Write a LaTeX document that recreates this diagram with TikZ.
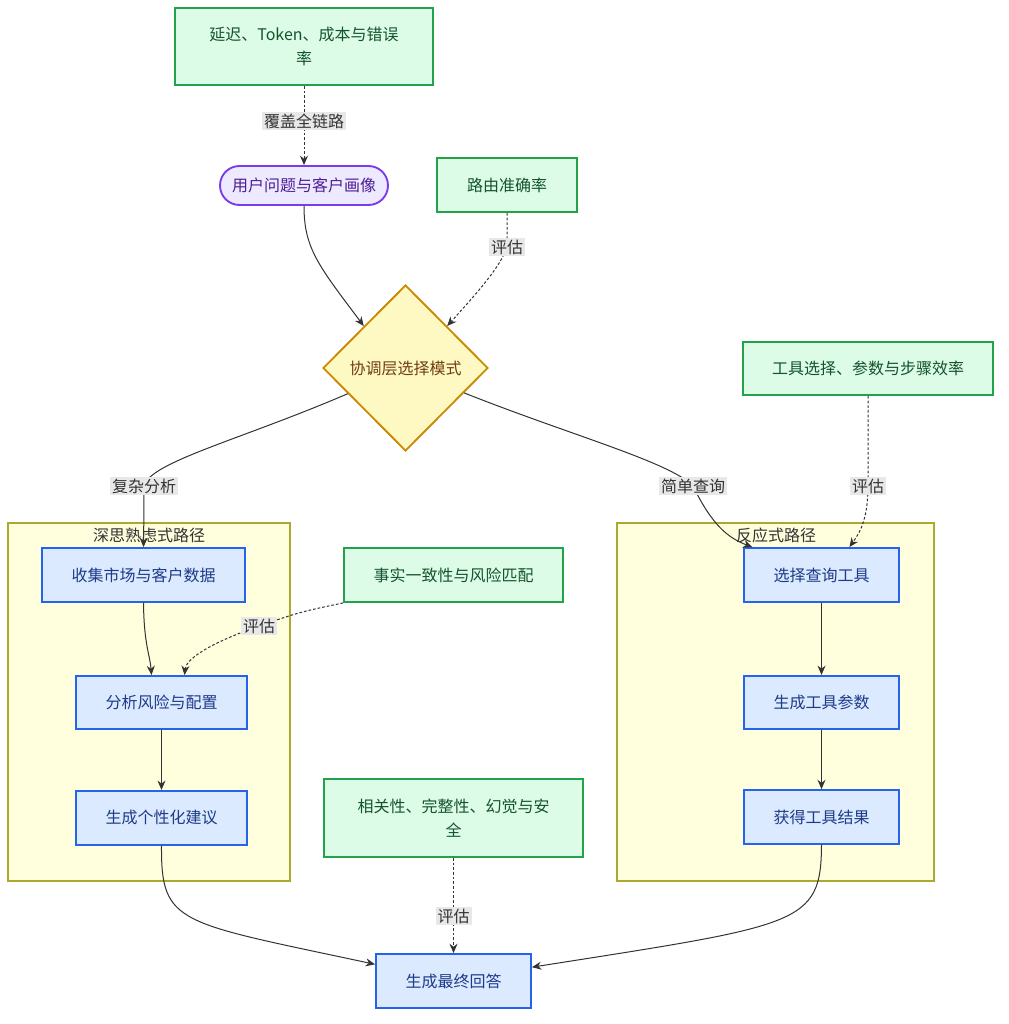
\documentclass[tikz,border=0pt]{standalone}
\usepackage{fontspec}
\setmainfont{Noto Sans CJK SC}
\usetikzlibrary{positioning,shapes.geometric,arrows.meta}
\definecolor{mGreenFill}{HTML}{DCFCE7}
\definecolor{mGreenLine}{HTML}{22A34A}
\definecolor{mGreenText}{HTML}{14532D}
\definecolor{mPurpleFill}{HTML}{EDE9FE}
\definecolor{mPurpleLine}{HTML}{7C3AED}
\definecolor{mPurpleText}{HTML}{4C1D95}
\definecolor{mYellowFill}{HTML}{FEF9C3}
\definecolor{mYellowLine}{HTML}{CA8A04}
\definecolor{mYellowText}{HTML}{713F12}
\definecolor{mBlueFill}{HTML}{DBEAFE}
\definecolor{mBlueLine}{HTML}{2563EB}
\definecolor{mBlueText}{HTML}{1E3A8A}
\definecolor{mClusterFill}{HTML}{FFFFDE}
\definecolor{mClusterLine}{HTML}{AAAA33}
\definecolor{mEdge}{HTML}{333333}
\definecolor{mLabel}{HTML}{E8E8E8}

\begin{document}
\begin{tikzpicture}[
  x=0.75pt, y=-0.75pt,
  font=\fontsize{12}{18}\selectfont,
  box/.style={draw, rectangle, align=center, inner sep=0pt, line width=1.4pt},
  metric/.style={box, fill=mGreenFill, draw=mGreenLine, text=mGreenText},
  stepbox/.style={box, fill=mBlueFill, draw=mBlueLine, text=mBlueText,
                  minimum width=116.25pt, minimum height=40.5pt},
  dec/.style={draw=mYellowLine, fill=mYellowFill, text=mYellowText, diamond,
              inner sep=0pt, line width=1.4pt, minimum width=123.75pt, minimum height=124.5pt},
  cluster/.style={draw=mClusterLine, fill=mClusterFill, line width=0.8pt, inner sep=0pt},
  flow/.style={draw=mEdge, line width=0.75pt, -{Stealth[length=7pt,width=6pt]}},
  evalflow/.style={flow, dash pattern=on 2pt off 1.5pt},
  elabel/.style={fill=mLabel, text=mEdge, inner sep=1.5pt}
]
\path[use as bounding box, fill=white] (0,0) rectangle (1009,1024);

\node[cluster, minimum width=211.5pt, minimum height=268.5pt] (deep) at (149,702) {};
\node[cluster, minimum width=237.75pt, minimum height=268.5pt] (react) at (775.5,702) {};
\node[text=mEdge] (deepTitle) at (149,535) {深思熟虑式路径};
\node[text=mEdge] (reactTitle) at (776,535) {反应式路径};

\node[metric, minimum width=193.5pt, minimum height=57.75pt] (latency) at (304,46.5) {延迟、Token、成本与错误\\率};
\node[box, rounded corners=14.6pt, fill=mPurpleFill, draw=mPurpleLine, text=mPurpleText,
      minimum width=126pt, minimum height=29.25pt] (user) at (304,185.5) {用户问题与客户画像};
\node[metric, minimum width=105pt, minimum height=40.5pt] (route) at (507,185) {路由准确率};
\node[dec] (dia) at (405.5,368) {协调层选择模式};
\node[metric, minimum width=187.5pt, minimum height=39.75pt] (toolEff) at (868,368.5) {工具选择、参数与步骤效率};

\node[stepbox, minimum width=152.25pt] (collect) at (143.5,575) {收集市场与客户数据};
\node[metric, minimum width=164.25pt, minimum height=40.5pt] (fact) at (453.5,575) {事实一致性与风险匹配};
\node[stepbox, minimum width=128.25pt, minimum height=39.75pt] (analyze) at (161.5,702.5) {分析风险与配置};
\node[stepbox, minimum width=128.25pt, below=45pt of analyze] (advice) {生成个性化建议};
\node[metric, minimum width=194.25pt, minimum height=58.5pt] (relevance) at (453.5,818) {相关性、完整性、幻觉与安\\全};

\node[stepbox] (select) at (821.5,575) {选择查询工具};
\node[stepbox, minimum height=39.75pt, below=54pt of select] (params) {生成工具参数};
\node[stepbox, below=44.5pt of params] (result) {获得工具结果};
\node[stepbox] (final) at (453.5,981) {生成最终回答};

\coordinate (cCover) at (304,121);
\coordinate (cEvalRoute) at (507,247);
\coordinate (cComplex) at (144,486);
\coordinate (cSimple) at (693,486);
\coordinate (cEvalTool) at (868,486);
\coordinate (cEvalFact) at (259,626);
\coordinate (cEvalAns) at (453.5,916);

\draw[evalflow] (latency) -- (user);
\draw[flow] (user.south) .. controls (304,248) and (318,265) .. (dia.north west);
\draw[evalflow] (route.south) -- (cEvalRoute) .. controls (500,268) and (475,295) .. (dia.north east);
\draw[flow] (dia.204) .. controls (240,440) and (150,462) .. (cComplex) .. controls (144,505) .. (collect.north);
\draw[flow] (dia.-23) .. controls (570,435) and (670,462) .. (cSimple) .. controls (712,525) and (728,538) .. (select.158);
\draw[evalflow] (toolEff.south) -- (cEvalTool) .. controls (868,522) and (858,535) .. (select.45);
\draw[flow] (collect.south) .. controls (144,645) and (150,655) .. (analyze.110);
\draw[evalflow] (fact.south west) .. controls (300,612) .. (cEvalFact) .. controls (205,645) and (186,660) .. (analyze.50);
\draw[flow] (analyze) -- (advice);
\draw[flow] (advice.south) .. controls (161,925) and (178,922) .. (final.168);
\draw[flow] (select) -- (params);
\draw[flow] (params) -- (result);
\draw[flow] (result.south) .. controls (821,925) and (800,925) .. (final.10);
\draw[evalflow] (relevance) -- (cEvalAns) -- (final);

\node[elabel] (lCover) at (cCover) {覆盖全链路};
\node[elabel] (lEvalRoute) at (cEvalRoute) {评估};
\node[elabel] (lComplex) at (cComplex) {复杂分析};
\node[elabel] (lSimple) at (cSimple) {简单查询};
\node[elabel] (lEvalTool) at (cEvalTool) {评估};
\node[elabel] (lEvalFact) at (cEvalFact) {评估};
\node[elabel] (lEvalAns) at (cEvalAns) {评估};
\end{tikzpicture}
\end{document}
